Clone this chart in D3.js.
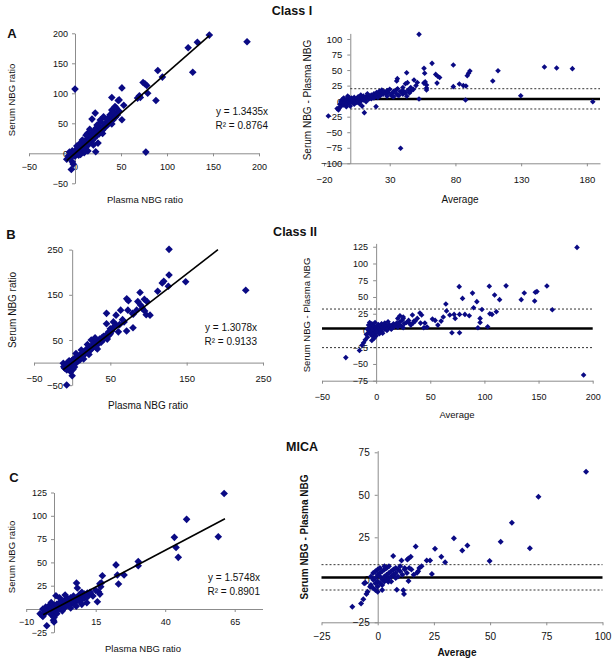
<!DOCTYPE html>
<html><head><meta charset="utf-8">
<script src="https://cdn.jsdelivr.net/npm/d3@7"></script>
<style>body{margin:0;background:#fff}svg{display:block}text{font-family:"Liberation Sans",Arial,sans-serif}</style>
</head><body><svg id="c" width="615" height="663"></svg>
<script>
// ---------------- DATA ----------------
// Panel A (Class I) scatter: plasma vs serum
const plasmaA = [146,133,123,187,90,128,95,76,78,74,0,51,79,71,88,40,47,48,53,22,18.5,51,40,25,22.5,77,-4,-3,40,43.5,38,31,27.5,24,13.5,68,70,41,43,
 -9,-7,-6,-5,-4,-3,-2,-2,-1,0,0,1,1,2,2,3,3,4,4,5,5,6,6,7,7,8,8,9,9,10,10,11,11,12,12,13,13,14,14,15,15,16,16,17,17,18,18,19,19,20,20,21,21,22,23,23,24,25,25,26,27,28,28,29,30,31,32,33,34,35,36,37,38,39,41,42,44,45,46,48,14,10,6,20,30,8,5,2,12,16];
const serumA  = [197,185,176,186,138,135,127,116,113,118,107,109,100,93,88,93,88,89,80,67,57,56,49,17,2.5,2,-27,-14,72,78,64,61,55.6,47,33,92,96,56,61,
 -10,-4,2,-8,0,4,-3,-18,1,-5,3,0,6,-2,4,1,8,5,-3,7,2,10,4,8,13,6,11,15,9,12,18,14,8,20,16,12,24,18,22,15,27,21,25,19,30,24,28,22,33,27,31,25,38,29,33,42,30,35,46,32,38,36,52,41,39,45,42,50,46,56,48,60,52,63,55,68,60,75,64,70,4,1,-2,14,33,22,16,12,30,40];
const slopeA = 1.3435, fitRangeA = [-9, 146];

// Panel A Bland-Altman: average vs difference
const avgA  = [52.3,62.2,56.1,56.6,42.9,35.8,35.3,48.5,57,56,43.5,42,58,58,58,65,66.5,68,66,78.4,78.4,83,86,88,89,90,91,108.4,112.4,129.7,147.7,157,169,184.5,87.7,52.3,-16.7,10.7,19.6,38.3,44,48,46,50,51,39,40,32,36,
 -10,-9,-8,-8,-7,-7,-6,-6,-5,-5,-4,-4,-3,-3,-2,-2,-1,-1,0,0,0,1,1,2,2,3,3,4,4,5,5,6,6,7,7,8,8,9,9,10,10,11,12,12,13,14,14,15,16,16,17,18,18,19,20,20,21,22,22,23,24,24,25,26,27,28,29,30,31,32,33,35,35,37,38,40,40,42,43,45,46,28,33,36,13,8,-2];
const diffA = [107.5,60.8,52.8,44.8,45.8,36.2,32.4,34,31,29,29.8,28,26,21,18,43,40,38,29,58.2,23.3,27.6,25,24.4,41,45,48.5,32.4,49,8.8,55,53.4,52.3,-1,1.9,3.5,-23.9,-18.5,-8.8,-75.9,18,19,22,25,30,15,22,8,10,
 -12,-14,-5,-10,0,-8,3,-3,-6,5,0,-2,2,-9,4,-4,0,6,2,-3,-8,1,5,-1,3,6,-5,2,0,4,-2,7,1,3,-4,5,0,6,-8,2,8,4,7,-1,5,9,3,6,10,4,7,12,5,8,10,14,6,11,16,9,13,18,11,15,12,17,14,19,10,13,16,12,18,9,15,11,17,14,8,13,16,8,7,20,12,10,8];
const baLinesA = [3.5, 20, -12.6];

// Panel B (Class II) scatter
const plasmaB = [126.9,126.9,120,118,148.7,126,112,227.4,88.9,71.5,73.7,94.6,86,98,84.5,73,79,90,92,95,97,102,45,57.5,63.5,80,79.7,71.3,45,54,58,60.5,-7.2,0,-2,-11.6,-11,-9,66,68,62,55,50,48,
 -10,-8,-7,-6,-5,-4,-3,-2,-1,0,0,1,2,2,3,4,4,5,6,6,7,8,8,9,10,10,11,12,13,14,15,15,16,17,18,19,20,20,21,22,23,24,25,26,27,28,29,30,31,32,33,34,35,36,37,38,39,40,41,42,44,45,46,48,50,52,25,30,20,12,5,15,22,33,1,3];
const serumB  = [250.6,193.8,180,176,179,169,158,160,155,141,137,140,135,135,116,116,109,127,120,114,106,105,109,105,116,107,77,70,86,90,83,68,-49.6,-29,-20,-1.7,-9,-13,95,90,84,80,75,68,
 -12,-5,-16,0,-8,4,-3,-12,2,-6,5,0,-4,8,3,-2,10,6,1,12,8,4,14,10,6,16,12,18,14,20,16,24,19,25,22,28,24,32,27,30,26,34,30,38,33,36,42,38,34,44,40,48,43,52,47,45,55,50,58,53,56,62,52,60,64,70,50,55,40,28,20,8,18,30,-15,-10];
const slopeB = 1.3078, fitRangeB = [-11.7, 191];

// Panel B Bland-Altman
const avgB  = [185.5,191.6,-28,-15.4,-13,-11.6,76.7,79.8,89,93,97.7,90,96,96,94,103,104.5,105,109.4,107,111,114,120,134,136.8,147,148.5,146.4,157.7,162.7,64.4,65,68,77,77,70,62,60,57,54.5,52,41,45,40.4,42,44,33.5,22,25,47,30,35,73,72,82,86,
 -10,-9,-8,-8,-7,-7,-6,-6,-5,-5,-4,-4,-3,-3,-2,-2,-1,-1,0,0,0,1,1,2,2,3,3,4,4,5,5,6,6,7,8,8,9,10,10,11,12,13,14,15,16,17,18,19,20,20,21,22,23,24,25,25,26,28,30,32,34,36,38,-4,-2,14,11];
const diffB = [124,-66.4,-40.5,-30,-22,-18.5,65.4,47.9,55.8,43,31.4,34,18,12,4,5.6,66,25,53,24,28,46,66.6,46,56,57,58,44,66.4,31,39.5,29,23,24,-3.3,-3.3,20,14,8,15,17,11,11,26,23,4,23,22,18,5,12,14,18,24,24,22,
 -14,-6,2,-10,8,-3,12,0,-6,5,10,-2,3,-9,7,-4,0,12,4,-2,-8,6,1,-3,9,4,-5,7,1,10,-1,5,-4,8,2,11,5,7,0,3,9,5,7,4,10,6,8,11,5,18,9,13,7,15,4,20,10,12,15,8,11,14,18,-15,-12,2,13];
const baLinesB = [3, 32, -25.6];

// Panel C (MICA) scatter
const plasmaC = [61.2,47.7,59.1,43.3,43.9,44.7,30.3,30.3,22.3,22.8,23.2,25.2,17.4,16.5,16.8,16,16.5,15.6,8.1,8.4,11.8,11.2,0.7,-2.6,-0.2,0,-4.4,14,13,15,17,10,9,
 -5,-4,-4,-3,-3,-2,-2,-1,-1,0,0,0,1,1,1,2,2,2,3,3,3,4,4,4,5,5,5,6,6,6,7,7,7,8,8,9,9,10,10,11,11,12,12,13,6,3,1,0,2,4,8,10,-1];
const serumC  = [124,96.2,77.6,76.9,66.1,55.4,51,46.4,47.3,36.5,26.8,36.5,35.7,27,24,18.5,16,7.8,27.9,22.5,6.8,15,14.2,-18,-12,-14,-6.5,14,17,20,28,18,15,
 -5,0,-8,2,-4,-1,3,1,-6,0,4,-3,2,-1,5,3,0,7,4,1,8,6,2,10,7,4,11,9,5,12,10,7,14,11,8,12,9,14,10,16,12,17,13,18,1,-2,-5,-9,12,15,3,5,7];
const slopeC = 1.5748, fitRangeC = [-3.9, 61.5];

// Panel C Bland-Altman
const avgC  = [92.7,71.5,59.7,54.7,67.7,49.8,33.9,39.9,37.6,25.5,16.9,28.3,30,21.8,23.3,24.1,14.7,13.7,13.2,10.6,6.9,11.4,8.5,11.7,13.7,18,18.5,17.5,19.5,-11.3,-7.4,-6.4,-5,-4.5,-3.4,-5.5,-6,4.7,15,16,12,
 -3,-3,-2,-2,-2,-1,-1,-1,0,0,0,0,1,1,1,2,2,2,3,3,3,4,4,4,5,5,6,6,7,7,8,8,9,9,10,10,11,12,13,14,1,3,5,-1,0,2,6,8];
const diffC = [63.6,48.9,33.6,22.4,18.6,11,24.4,20.2,17.2,18.2,19.6,13.6,10.3,11.3,11.3,3.4,13.6,12.6,12,11.3,14,-6.2,-5.8,-8.4,-0.7,5,6.9,4.2,7.9,-15.8,-14,-11.5,-8.4,-7,-4.1,-1.7,-2,-1.1,6,3,7,
 -3,2,0,4,-5,1,-2,5,3,-1,-4,6,2,-2,4,0,5,-3,2,-1,6,3,0,7,1,4,2,5,3,6,1,4,6,2,5,8,3,6,4,7,7,8,8,-6,-7,-6,-1,7];
const baLinesC = [1.3, 8.9, -6];

// Tick labels
const ticksA_x = [-50,0,50,100,150,200], ticksA_y = [-50,0,50,100,150,200];
const ticksBA_A_x = [-20,30,80,130,180], ticksBA_A_y = [-100,-75,-50,-25,0,25,50,75,100];
const ticksB_x = [-50,50,150,250], ticksB_y = [-50,50,150,250];
const ticksBA_B_x = [-50,0,50,100,150,200], ticksBA_B_y = [-75,-50,-25,0,25,50,75,100,125];
const ticksC_x = [-10,15,40,65], ticksC_y = [-25,0,25,50,75,100,125];
const ticksBA_C_x = [-25,0,25,50,75,100], ticksBA_C_y = [-25,0,25,50,75];

// ---------------- DRAW ----------------
const svg = d3.select('#c');
const NAVY = '#0a0a84', AX = '#8c8c8c';

function diamond(r){ return `M0,${-r}L${r},0L0,${r}L${-r},0Z`; }

function panel(o){
  const x = d3.scaleLinear().domain(o.xd).range(o.xr);
  const y = d3.scaleLinear().domain(o.yd).range(o.yr);
  const g = svg.append('g');
  const xa = d3.axisBottom(x).tickValues(o.xt).tickSize(3).tickSizeOuter(0).tickPadding(o.xpad).tickFormat(d3.format('d'));
  const ya = d3.axisLeft(y).tickValues(o.yt).tickSize(3).tickSizeOuter(0).tickPadding(o.ypad).tickFormat(d3.format('d'));
  const gx = g.append('g').attr('transform', `translate(0,${y(o.xAt)})`).call(xa);
  const gy = g.append('g').attr('transform', `translate(${x(o.yAt)},0)`).call(ya);
  [gx, gy].forEach(a => {
    a.select('.domain').attr('stroke', AX);
    a.selectAll('.tick line').attr('stroke', AX);
    a.selectAll('.tick text').attr('fill', '#111').style('font-size', o.fs + 'px').style('font-family','"Liberation Sans",Arial,sans-serif');
  });
  // reference lines
  if (o.ba) {
    const lx0 = x(o.baFrom), lx1 = x(o.xd[1]);
    g.append('line').attr('x1', lx0).attr('x2', lx1).attr('y1', y(o.ba[1])).attr('y2', y(o.ba[1]))
      .attr('stroke', '#333').attr('stroke-width', 1).attr('stroke-dasharray', '2,2');
    g.append('line').attr('x1', lx0).attr('x2', lx1).attr('y1', y(o.ba[2])).attr('y2', y(o.ba[2]))
      .attr('stroke', '#333').attr('stroke-width', 1).attr('stroke-dasharray', '2,2');
    g.append('line').attr('x1', lx0).attr('x2', lx1).attr('y1', y(o.ba[0])).attr('y2', y(o.ba[0]))
      .attr('stroke', '#000').attr('stroke-width', 2.5);
  }
  // points
  const pts = o.xs.map((v, i) => [v, o.ys[i]]);
  g.append('g').selectAll('path').data(pts).join('path')
    .attr('d', diamond(o.r)).attr('fill', NAVY)
    .attr('transform', d => `translate(${x(d[0])},${y(d[1])})`);
  // fit line
  if (o.slope) {
    g.append('line').attr('x1', x(o.fit[0])).attr('y1', y(o.slope * o.fit[0]))
      .attr('x2', x(o.fit[1])).attr('y2', y(o.slope * o.fit[1]))
      .attr('stroke', '#000').attr('stroke-width', 1.6);
    g.append('text').attr('x', o.eqX).attr('y', o.eqY).attr('text-anchor', 'end')
      .style('font-size', '10px').attr('fill', '#111').text('y = ' + o.slope + 'x');
    g.append('text').attr('x', o.eqX).attr('y', o.eqY + 13.5).attr('text-anchor', 'end')
      .style('font-size', '10px').attr('fill', '#111').text('R² = ' + o.r2);
  }
  // axis titles
  g.append('text').attr('x', o.xlab[0]).attr('y', o.xlab[1]).attr('text-anchor', 'middle')
    .style('font-size', o.tfs + 'px').style('font-weight', o.bold ? 'bold' : 'normal').attr('fill', '#111').text(o.xTitle);
  g.append('text').attr('transform', `translate(${o.ylab[0]},${o.ylab[1]}) rotate(-90)`).attr('text-anchor', 'middle')
    .attr('dy', '0.35em')
    .style('font-size', o.tfs + 'px').style('font-weight', o.bold ? 'bold' : 'normal').attr('fill', '#111').text(o.yTitle);
}

// Panel A scatter
panel({xd:[-50,200], xr:[29,259], yd:[-50,200], yr:[183.3,33.3], xAt:0, yAt:0,
  xt:ticksA_x, yt:ticksA_y, xpad:7, ypad:4, fs:9, xs:plasmaA, ys:serumA, r:3.8,
  slope:slopeA, fit:fitRangeA, r2:'0.8764', eqX:268, eqY:115,
  xlab:[145,203], ylab:[12,100], xTitle:'Plasma NBG ratio', yTitle:'Serum NBG ratio', tfs:9.5});
// Panel A Bland-Altman
panel({xd:[-20,190], xr:[324,600], yd:[-100,109], yr:[163.3,33.4], xAt:-100, yAt:0,
  xt:ticksBA_A_x, yt:ticksBA_A_y, xpad:10, ypad:5, fs:9.5, xs:avgA, ys:diffA, r:2.8,
  ba:baLinesA, baFrom:0,
  xlab:[460,203], ylab:[307,100], xTitle:'Average', yTitle:'Serum NBG - Plasma NBG', tfs:10});
// Panel B scatter
panel({xd:[-50,250], xr:[34,263], yd:[-50,250], yr:[385.2,249.6], xAt:0, yAt:0,
  xt:ticksB_x, yt:ticksB_y, xpad:9.5, ypad:6, fs:9.5, xs:plasmaB, ys:serumB, r:3.8,
  slope:slopeB, fit:fitRangeB, r2:'0.9133', eqX:257, eqY:331,
  xlab:[148,409], ylab:[12,310], xTitle:'Plasma NBG ratio', yTitle:'Serum NBG ratio', tfs:10});
// Panel B Bland-Altman
panel({xd:[-50,200], xr:[322,592.7], yd:[-75,130], yr:[380.7,243.4], xAt:-75, yAt:0,
  xt:ticksBA_B_x, yt:ticksBA_B_y, xpad:9.5, ypad:5, fs:9, xs:avgB, ys:diffB, r:2.8,
  ba:baLinesB, baFrom:-50,
  xlab:[457,418], ylab:[307,315], xTitle:'Average', yTitle:'Serum NBG - Plasma NBG', tfs:9.5});
// Panel C scatter
panel({xd:[-10,75], xr:[26.2,262.5], yd:[-25,125], yr:[632.3,492.5], xAt:0, yAt:0,
  xt:ticksC_x, yt:ticksC_y, xpad:7, ypad:4, fs:9, xs:plasmaC, ys:serumC, r:3.8,
  slope:slopeC, fit:fitRangeC, r2:'0.8901', eqX:260, eqY:581,
  xlab:[143,652], ylab:[12,557], xTitle:'Plasma NBG ratio', yTitle:'Serum NBG ratio', tfs:9.5});
// Panel C Bland-Altman
panel({xd:[-25,100], xr:[321.5,602.5], yd:[-25,76], yr:[622.3,450.6], xAt:-25, yAt:0,
  xt:ticksBA_C_x, yt:ticksBA_C_y, xpad:7.5, ypad:5, fs:10, xs:avgC, ys:diffC, r:3,
  ba:baLinesC, baFrom:-25,
  xlab:[457,656], ylab:[304,537], xTitle:'Average', yTitle:'Serum NBG - Plasma NBG', tfs:10, bold:true});

// Titles and panel letters
const titles = [['Class I',292,14.5],['Class II',295,236],['MICA',302,451]];
svg.selectAll('text.title').data(titles).join('text').attr('class','title')
  .attr('x', d => d[1]).attr('y', d => d[2]).attr('text-anchor','middle')
  .style('font-size','12.5px').style('font-weight','bold').attr('fill','#111').text(d => d[0]);
const letters = [['A',12,38],['B',11,239],['C',14,482]];
svg.selectAll('text.letter').data(letters).join('text').attr('class','letter')
  .attr('x', d => d[1]).attr('y', d => d[2]).attr('text-anchor','middle')
  .style('font-size','13px').style('font-weight','bold').attr('fill','#111').text(d => d[0]);
</script></body></html>
